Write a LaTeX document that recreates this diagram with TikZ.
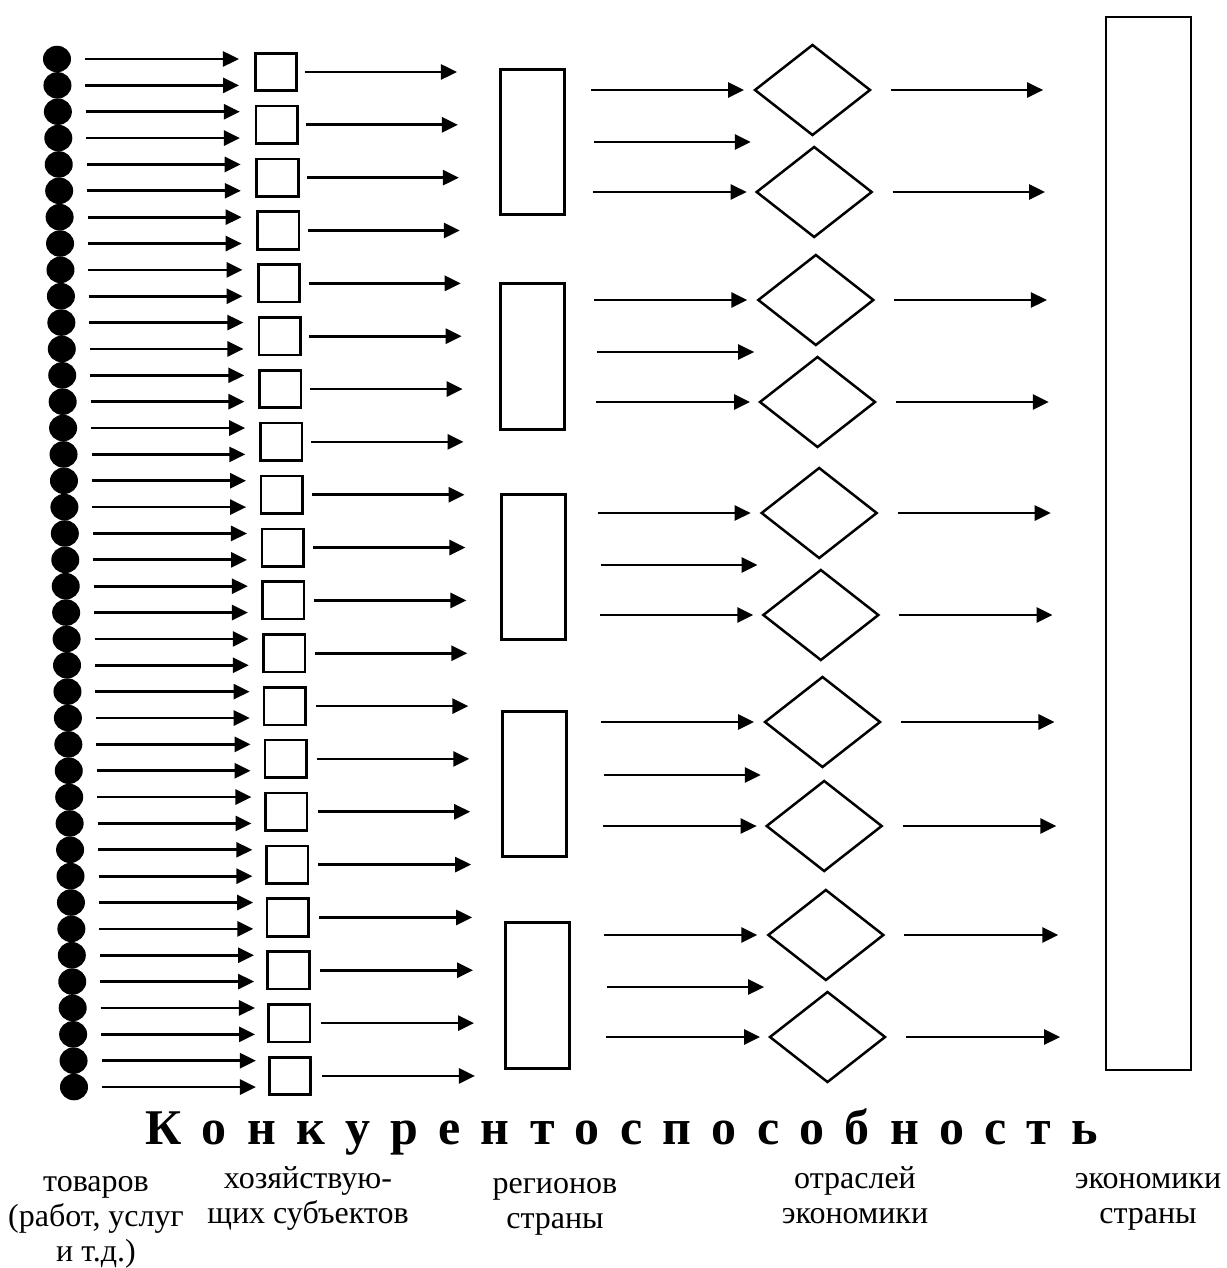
\documentclass[tikz,border=0pt]{standalone}
\usepackage{fontspec}
\setmainfont{Liberation Serif}
\usetikzlibrary{arrows.meta,shapes.geometric}
\begin{document}
\begin{tikzpicture}[x=1pt,y=-1pt,
  dotnode/.style={ellipse,fill=black,draw=none,minimum width=28pt,minimum height=26.5pt,inner sep=0pt,outer sep=0pt},
  sqbox/.style={draw,line width=2.6pt,minimum width=41.5pt,minimum height=37.5pt,inner sep=0pt,outer sep=0pt},
  regbox/.style={draw,line width=2.6pt,minimum width=64.5pt,minimum height=145.5pt,inner sep=0pt,outer sep=0pt},
  diabox/.style={diamond,draw,line width=2.5pt,minimum width=115pt,minimum height=90pt,inner sep=0pt,outer sep=0pt},
  tallbox/.style={draw,line width=2.3pt,minimum width=84.7pt,minimum height=1052.7pt,inner sep=0pt,outer sep=0pt},
  arr/.style={line width=2.7pt,-{Triangle[length=16pt,width=15pt]}},
  lbl/.style={font=\fontsize{32}{35}\selectfont,align=center,inner sep=0pt,anchor=base},
  titlestyle/.style={font=\bfseries\fontsize{50}{60}\selectfont,inner sep=0pt,anchor=base west}
]
\useasboundingbox (0,0) rectangle (1226,1268);

% dots
\foreach \i in {0,...,39}{
  \pgfmathsetmacro\xx{57+17*\i/39}
  \pgfmathsetmacro\yy{59+26.36*\i}
  \node[dotnode] (d\i) at (\xx,\yy) {};
}
% squares
\foreach \j in {0,...,19}{
  \pgfmathsetmacro\xx{276+14*\j/19}
  \pgfmathsetmacro\yy{72+52.84*\j}
  \node[sqbox] (s\j) at (\xx,\yy) {};
}
% regions
\foreach \r/\lx/\cy in {0/499/142,1/499/356.5,2/500/567,3/501/784,4/504/995.5}{
  \pgfmathsetmacro\xx{\lx+33.5}
  \node[regbox] (r\r) at (\xx,\cy) {};
}
% diamonds
\foreach \k/\cy in {0/90,1/192,2/300,3/402,4/513,5/615,6/722,7/826,8/935,9/1037}{
  \pgfmathsetmacro\xx{753+15*\k/9+59.5}
  \node[diabox] (m\k) at (\xx,\cy) {};
}
% tall box
\node[tallbox] (econ) at (1148.5,543.5) {};

% dot -> square arrows
\foreach \i in {0,...,39}{
  \pgfmathtruncatemacro\j{floor(\i/2)}
  \pgfmathsetmacro\g{16.3-3*\i/39}
  \draw[arr,shorten <=14pt,shorten >=\g pt] (d\i.east) -- (d\i.east -| s\j.west);
}
% square -> region arrows
\foreach \j in {0,...,19}{
  \pgfmathtruncatemacro\r{floor(\j/4)}
  \pgfmathsetmacro\lx{\r==0 ? 499 : (\r==1 ? 499 : (\r==2 ? 500 : (\r==3 ? 501 : 504)))}
  \pgfmathsetmacro\ga{8.25+3*\j/19}
  \pgfmathsetmacro\gb{\lx+1.3-457-18*\j/19}
  \draw[arr,shorten <=\ga pt,shorten >=\gb pt] (s\j.east) -- (s\j.east -| r\r.west);
}
% region -> diamond arrows
\foreach \r in {0,...,4}{
  \pgfmathtruncatemacro\ka{2*\r}
  \pgfmathtruncatemacro\kb{2*\r+1}
  \pgfmathsetmacro\lx{\r==0 ? 499 : (\r==1 ? 499 : (\r==2 ? 500 : (\r==3 ? 501 : 504)))}
  \pgfmathsetmacro\st{591+13*\r/4-\lx-65.7}
  \pgfmathsetmacro\stb{\st+3}
  \pgfmathsetmacro\stc{\st+2}
  \draw[arr,shorten <=\st pt,shorten >=11pt] (r\r.east |- m\ka.west) -- (m\ka.west);
  \path (m\ka.west) -- (m\kb.west) coordinate[pos=0.5,yshift=-1pt,xshift=-5pt] (mid\r);
  \draw[arr,shorten <=\stb pt] (r\r.east |- mid\r) -- (mid\r);
  \draw[arr,shorten <=\stc pt,shorten >=10pt] (r\r.east |- m\kb.west) -- (m\kb.west);
}
% diamond -> economy arrows
\foreach \k in {0,...,9}{
  \pgfmathsetmacro\gb{63-17*\k/9}
  \draw[arr,shorten <=21pt,shorten >=\gb pt] (m\k.east) -- (m\k.east -| econ.west);
}

% title and labels
\node[titlestyle] (title) at (145,1144) {\hbox to 953pt{К\hfill о\hfill н\hfill к\hfill у\hfill р\hfill е\hfill н\hfill т\hfill о\hfill с\hfill п\hfill о\hfill с\hfill о\hfill б\hfill н\hfill о\hfill с\hfill т\hfill ь}};
\node[lbl] (l1) at (96,1261) {товаров\\(работ, услуг\\и т.д.)};
\node[lbl] (l2) at (308,1223) {хозяйствую-\\щих субъектов};
\node[lbl] (l3) at (555,1228) {регионов\\страны};
\node[lbl] (l4) at (855,1223) {отраслей\\экономики};
\node[lbl] (l5) at (1148,1223) {экономики\\страны};
\end{tikzpicture}
\end{document}
